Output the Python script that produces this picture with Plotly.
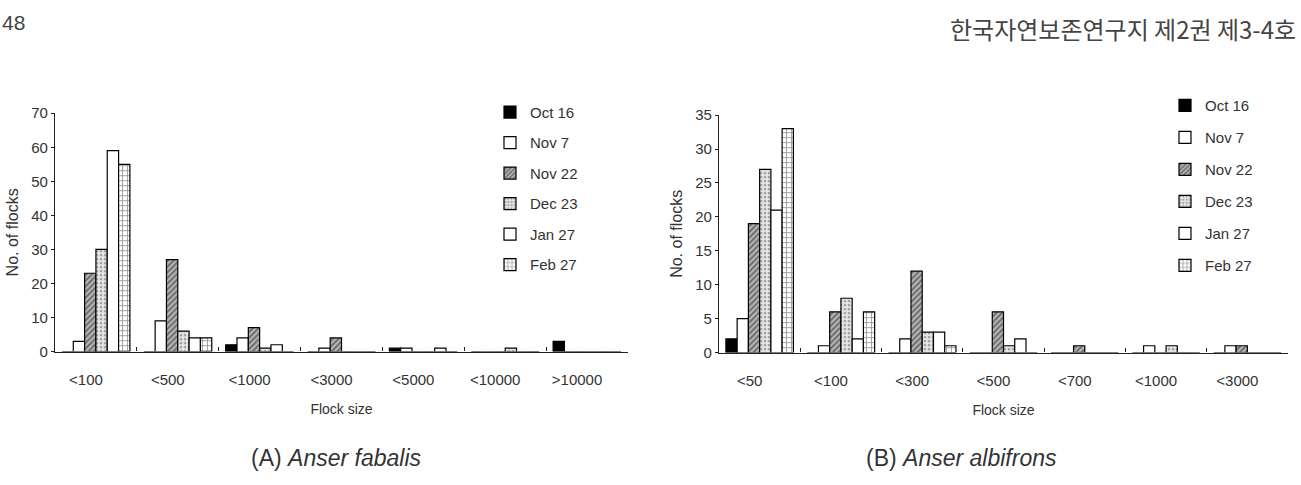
import plotly.graph_objects as go

# ---------------- data ----------------
dates = ["Oct 16", "Nov 7", "Nov 22", "Dec 23", "Jan 27", "Feb 27"]

sizes_a = ["<100", "<500", "<1000", "<3000", "<5000", "<10000", ">10000"]
fabalis_oct16 = [0, 0, 2, 0, 1, 0, 3]
fabalis_nov7 = [3, 9, 4, 1, 1, 0, 0]
fabalis_nov22 = [23, 27, 7, 4, 0, 0, 0]
fabalis_dec23 = [30, 6, 1, 0, 0, 1, 0]
fabalis_jan27 = [59, 4, 2, 0, 1, 0, 0]
fabalis_feb27 = [55, 4, 0, 0, 0, 0, 0]

sizes_b = ["<50", "<100", "<300", "<500", "<700", "<1000", "<3000"]
albifrons_oct16 = [2, 0, 0, 0, 0, 0, 0]
albifrons_nov7 = [5, 1, 2, 0, 0, 1, 1]
albifrons_nov22 = [19, 6, 12, 6, 1, 0, 1]
albifrons_dec23 = [27, 8, 3, 1, 0, 1, 0]
albifrons_jan27 = [21, 2, 3, 2, 0, 0, 0]
albifrons_feb27 = [33, 6, 1, 0, 0, 0, 0]

yticks_a = [0, 10, 20, 30, 40, 50, 60, 70]
yticks_b = [0, 5, 10, 15, 20, 25, 30, 35]

# ---------------- styles ----------------
FONT = "Liberation Sans, Arial, sans-serif"
TXT = "#333333"

styles = [
    dict(color="black"),
    dict(color="white"),
    dict(color="white", pattern=dict(shape="/", fgcolor="#222222", bgcolor="#b8b8b8", size=4, solidity=0.5)),
    dict(color="white", pattern=dict(shape=".", fgcolor="#555555", bgcolor="#e6e6e6", size=4, solidity=0.35)),
    dict(color="white"),
    dict(color="white", pattern=dict(shape="+", fgcolor="#222222", bgcolor="white", size=5, solidity=0.3)),
]


def disp(labels):
    return [s.replace("<", "&lt;").replace(">", "&gt;") for s in labels]


fig = go.Figure()

series_a = [fabalis_oct16, fabalis_nov7, fabalis_nov22, fabalis_dec23, fabalis_jan27, fabalis_feb27]
series_b = [albifrons_oct16, albifrons_nov7, albifrons_nov22, albifrons_dec23, albifrons_jan27, albifrons_feb27]

for i, (name, vals) in enumerate(zip(dates, series_a)):
    fig.add_trace(go.Bar(
        x=disp(sizes_a), y=vals, name=name, xaxis="x", yaxis="y",
        marker=dict(line=dict(color="black", width=1.2), **styles[i]),
        legend="legend", legendgroup="a" + str(i),
    ))
for i, (name, vals) in enumerate(zip(dates, series_b)):
    fig.add_trace(go.Bar(
        x=disp(sizes_b), y=vals, name=name, xaxis="x2", yaxis="y2",
        marker=dict(line=dict(color="black", width=1.2), **styles[i]),
        legend="legend2", legendgroup="b" + str(i),
    ))

W, H = 1301, 485


def px_x(p):
    return p / W


def px_y(p):
    return (H - p) / H


xcommon = dict(
    type="category", showline=True, linecolor="#222", linewidth=1.2,
    ticks="inside", ticklen=4, tickcolor="#222", tickson="boundaries",
    showgrid=False, zeroline=False,
    tickfont=dict(family=FONT, size=15, color=TXT),
    ticklabelstandoff=14, ticklabelshift=-10,
    title=dict(text="Flock size", font=dict(family=FONT, size=14, color=TXT), standoff=17),
)
ycommon = dict(
    showline=True, linecolor="#222", linewidth=1.2, ticks="outside", ticklen=3,
    tickcolor="#222", showgrid=False, zeroline=False,
    tickfont=dict(family=FONT, size=15, color=TXT),
    title=dict(text="No. of flocks", font=dict(family=FONT, size=16, color=TXT), standoff=8),
)

legcommon = dict(
    font=dict(family=FONT, size=15, color=TXT), bgcolor="rgba(0,0,0,0)",
    itemclick=False, xanchor="left", yanchor="top",
)

fig.update_layout(
    width=W, height=H, margin=dict(l=0, r=0, t=0, b=0),
    paper_bgcolor="white", plot_bgcolor="white",
    barmode="group", bargap=0.17, bargroupgap=0,
    xaxis=dict(domain=[px_x(55), px_x(628)], anchor="y", **xcommon),
    yaxis=dict(domain=[px_y(355), px_y(108)], anchor="x", range=[0, 70],
               tickvals=yticks_a, **ycommon),
    xaxis2=dict(domain=[px_x(719), px_x(1288)], anchor="y2", **xcommon),
    yaxis2=dict(domain=[px_y(356), px_y(110)], anchor="x2", range=[0, 35],
                tickvals=yticks_b, **ycommon),
    legend=dict(x=px_x(490), y=px_y(90), tracegroupgap=8, **legcommon),
    legend2=dict(x=px_x(1165), y=px_y(83), tracegroupgap=9.5, **legcommon),
    annotations=[
        dict(text="48", xref="paper", yref="paper", x=0, y=1, xanchor="left", yanchor="top",
             showarrow=False, font=dict(family=FONT, size=21, color="#444")),
        dict(text="한국자연보존연구지 제2권 제3-4호", xref="paper", yref="paper", x=px_x(1298), y=1,
             xanchor="right", yanchor="top", showarrow=False,
             font=dict(family="Noto Sans CJK KR", size=24, color="#444")),
        dict(text="(A) <i>Anser fabalis</i>", xref="paper", yref="paper", x=px_x(336), y=px_y(465),
             xanchor="center", yanchor="middle", showarrow=False,
             font=dict(family=FONT, size=23, color=TXT)),
        dict(text="(B) <i>Anser albifrons</i>", xref="paper", yref="paper", x=px_x(961), y=px_y(465),
             xanchor="center", yanchor="middle", showarrow=False,
             font=dict(family=FONT, size=23, color=TXT)),
    ],
)

fig.write_html("out.html")
